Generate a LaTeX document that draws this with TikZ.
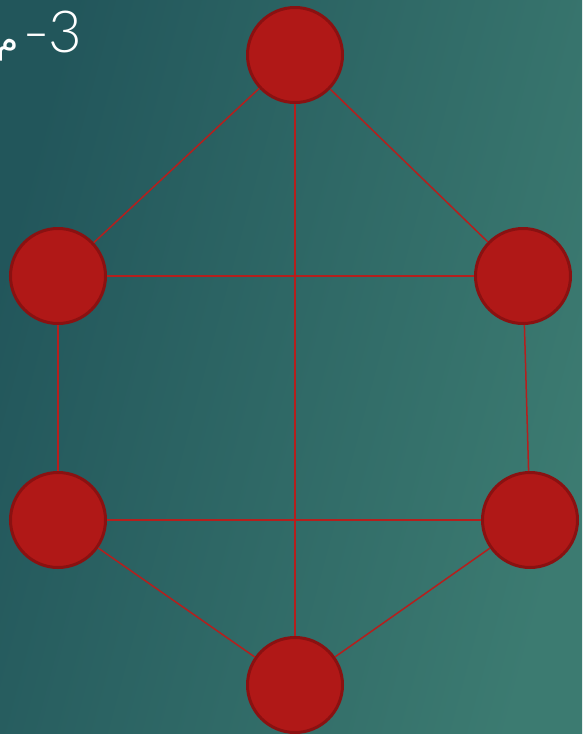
\documentclass[tikz,border=0pt]{standalone}
\usepackage{fontspec}
\setmainfont{Lato}[UprightFont=* Light]
\newfontfamily\arabicfont[Script=Arabic]{DejaVu Sans}
\definecolor{bgdark}{HTML}{22565B}
\definecolor{bglight}{HTML}{3C7B71}
\definecolor{vfill}{HTML}{B01817}
\definecolor{vline}{HTML}{8A1111}
\definecolor{eline}{HTML}{B51F1D}
\tikzset{
  vertex/.style={circle,fill=vfill,draw=vline,line width=3pt,minimum size=95pt,inner sep=0pt},
  edge/.style={eline,line width=1.5pt}
}
\begin{document}
\begin{tikzpicture}[x=1pt,y=-1pt]
      \clip (0,0) rectangle (582,734);
      \shade[left color=bgdark,right color=bglight,shading angle=75] (0,0) rectangle (582,734);
      \node[vertex] (T) at (295,55) {};
      \node[vertex] (L1) at (58,276) {};
      \node[vertex] (R1) at (523,276) {};
      \node[vertex] (L2) at (58,520) {};
      \node[vertex] (R2) at (530,520) {};
      \node[vertex] (B) at (295,685) {};
      \draw[edge] (T) -- (L1);
      \draw[edge] (T) -- (R1);
      \draw[edge] (T) -- (B);
      \draw[edge] (L1) -- (R1);
      \draw[edge] (L1) -- (L2);
      \draw[edge] (R1) -- (R2);
      \draw[edge] (L2) -- (R2);
      \draw[edge] (L2) -- (B);
      \draw[edge] (R2) -- (B);
      \node[white,anchor=base east,inner sep=0pt,font=\fontsize{58}{58}\selectfont] (title) at (82,52) {{\arabicfont\fontsize{36}{36}\selectfont م}\hspace{3pt}\scalebox{1.3}[1]{-}\hspace{-2pt}3};
\end{tikzpicture}
\end{document}
